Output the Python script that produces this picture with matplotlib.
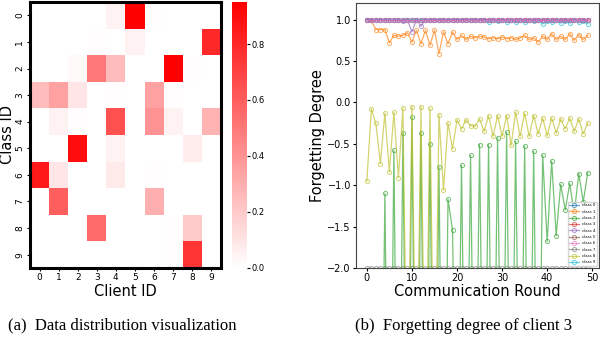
import numpy as np
import matplotlib
matplotlib.use("Agg")
import matplotlib.pyplot as plt
from matplotlib.colors import LinearSegmentedColormap

# heatmap: rows = class ID, cols = client ID
class_ids = list(range(10))
client_ids = list(range(10))
dist = np.array([
    [0, 0, 0, 0, 0.05, 0.95, 0.01, 0, 0, 0],
    [0, 0, 0, 0.01, 0, 0.05, 0, 0, 0, 0.80],
    [0, 0, 0.02, 0.50, 0.25, 0, 0, 0.95, 0.01, 0],
    [0.25, 0.35, 0.10, 0, 0.01, 0, 0.35, 0.01, 0, 0],
    [0, 0.05, 0.01, 0, 0.65, 0, 0.40, 0.05, 0, 0.28],
    [0, 0, 0.90, 0, 0.05, 0, 0, 0, 0.07, 0],
    [0.85, 0.10, 0, 0, 0.08, 0, 0.01, 0, 0, 0],
    [0, 0.60, 0, 0, 0, 0, 0.30, 0, 0, 0],
    [0, 0, 0, 0.55, 0, 0, 0, 0.01, 0.20, 0],
    [0, 0, 0, 0, 0, 0, 0, 0.01, 0.75, 0],
])

# forgetting degree of client 3, rounds 0..49
rounds = list(range(50))
class_0 = [1.0] * 50
class_1 = [1.0, 0.99, 0.88, 0.88, 0.88, 0.72, 0.81, 0.80, 0.81, 0.84,
           0.73, 0.87, 0.71, 0.87, 0.69, 0.87, 0.59, 0.85, 0.71, 0.85,
           0.76, 0.81, 0.76, 0.80, 0.78, 0.80, 0.79, 0.77, 0.78, 0.77,
           0.79, 0.77, 0.78, 0.76, 0.78, 0.81, 0.76, 0.78, 0.73, 0.80,
           0.76, 0.83, 0.76, 0.80, 0.76, 0.83, 0.75, 0.82, 0.76, 0.81]
class_2 = [-5.0, -6.0, -5.5, -6.0, -1.10, -6.0, -0.58, -6.0, -0.37, -6.0,
           -0.18, -6.0, -0.37, -6.0, -0.50, -6.0, -0.78, -6.0, -1.17, -1.54,
           -5.0, -0.76, -5.0, -0.64, -5.0, -0.51, -5.0, -0.51, -5.0, -0.43,
           -5.0, -0.36, -5.0, -0.47, -5.0, -0.53, -5.0, -0.59, -5.0, -0.64,
           -1.68, -0.71, -1.61, -0.99, -1.30, -0.98, -1.35, -0.86, -1.20, -0.85]
class_3 = [1.0] * 50
class_4 = [1.0, 1.0, 1.0, 1.0, 1.0, 1.0, 1.0, 1.0, 0.98, 1.0,
           0.85, 1.0, 0.92, 1.0, 1.0, 1.0, 1.0, 1.0, 1.0, 1.0,
           1.0, 1.0, 1.0, 1.0, 1.0, 1.0, 1.0, 1.0, 1.0, 1.0,
           1.0, 1.0, 1.0, 1.0, 1.0, 1.0, 1.0, 1.0, 1.0, 1.0,
           1.0, 1.0, 1.0, 1.0, 1.0, 1.0, 1.0, 1.0, 1.0, 1.0]
class_5 = [1.0] * 50
class_6 = [1.0] * 50
class_7 = [-2.0] * 50
class_8 = [-0.95, -0.08, -0.25, -0.74, -0.13, -0.84, -0.12, -0.91, -0.07, -4.0,
           -0.05, -4.0, -0.05, -4.0, -0.07, -4.0, -0.15, -1.06, -0.25, -0.56,
           -0.21, -0.32, -0.21, -0.28, -0.29, -0.20, -0.35, -0.16, -0.41, -0.16,
           -0.41, -0.16, -0.52, -0.12, -0.41, -0.13, -0.41, -0.16, -0.38, -0.19,
           -0.40, -0.19, -0.37, -0.20, -0.32, -0.19, -0.35, -0.20, -0.38, -0.25]
class_9 = [1.0, 1.0, 1.0, 1.0, 1.0, 1.0, 1.0, 1.0, 1.0, 1.0,
           1.0, 1.0, 1.0, 1.0, 1.0, 1.0, 1.0, 1.0, 1.0, 1.0,
           1.0, 1.0, 1.0, 0.99, 1.0, 0.99, 1.0, 0.97, 0.99, 0.98,
           1.0, 0.97, 0.99, 0.97, 0.99, 0.97, 1.0, 0.98, 0.99, 0.95,
           0.98, 0.97, 0.99, 0.96, 0.98, 0.96, 0.99, 0.97, 0.98, 0.95]
series = [class_0, class_1, class_2, class_3, class_4,
          class_5, class_6, class_7, class_8, class_9]
series_names = ["class %d" % i for i in range(10)]
draw_order = [7, 2, 8, 1, 0, 3, 5, 9, 4, 6]

fig = plt.figure(figsize=(6, 3.4), dpi=100)

# (a) heatmap
ax1 = fig.add_axes([0.05, 0.212, 0.318, 0.782])
cmap = LinearSegmentedColormap.from_list("wr", ["#ffffff", "#ff0000"])
im = ax1.imshow(dist, cmap=cmap, vmin=0, vmax=0.95, aspect="auto")
ax1.set_xticks(range(len(client_ids)))
ax1.set_xticklabels(client_ids, fontsize=6.5)
ax1.set_yticks(range(len(class_ids)))
ax1.set_yticklabels(class_ids, fontsize=6.5, rotation=90, va="center")
ax1.set_xlabel("Client ID", fontsize=10.5, labelpad=1)
ax1.set_ylabel("Class ID", fontsize=10.5, labelpad=0)
ax1.tick_params(length=2, pad=2)
for s in ax1.spines.values():
    s.set_linewidth(2.2)

cax = fig.add_axes([0.387, 0.212, 0.025, 0.782])
cb = fig.colorbar(im, cax=cax, ticks=[0, 0.2, 0.4, 0.6, 0.8])
cb.outline.set_visible(False)
cb.ax.tick_params(labelsize=6, length=2, pad=1)

# (b) forgetting degree
ax2 = fig.add_axes([0.593, 0.212, 0.405, 0.779])
colors = plt.get_cmap("tab10").colors
for i in draw_order:
    ax2.plot(rounds, series[i], color=colors[i], lw=0.9, alpha=0.65,
             marker="o", markersize=3, markerfacecolor="none",
             markeredgewidth=0.7, label=series_names[i])
ax2.set_ylim(-2.0, 1.2)
ax2.set_xticks([0, 10, 20, 30, 40, 50])
ax2.set_yticks([-2.0, -1.5, -1.0, -0.5, 0.0, 0.5, 1.0])
ax2.tick_params(labelsize=7, length=2, pad=1.5)
ax2.set_xlabel("Communication Round", fontsize=10.5, labelpad=1)
ax2.set_ylabel("Forgetting Degree", fontsize=10.5, labelpad=2)
for s in ax2.spines.values():
    s.set_color("#444444")
handles, labels = ax2.get_legend_handles_labels()
order = [labels.index(n) for n in series_names]
ax2.legend([handles[k] for k in order], [labels[k] for k in order],
           loc="lower right", fontsize=2.8, handlelength=2.5,
           borderpad=0.4, labelspacing=0.6, framealpha=0.8)

# captions
fig.text(0.013, 0.03, "(a)  Data distribution visualization",
         family="Liberation Serif", fontsize=12)
fig.text(0.592, 0.03, "(b)  Forgetting degree of client 3",
         family="Liberation Serif", fontsize=12)

fig.savefig("out.png", dpi=100)
